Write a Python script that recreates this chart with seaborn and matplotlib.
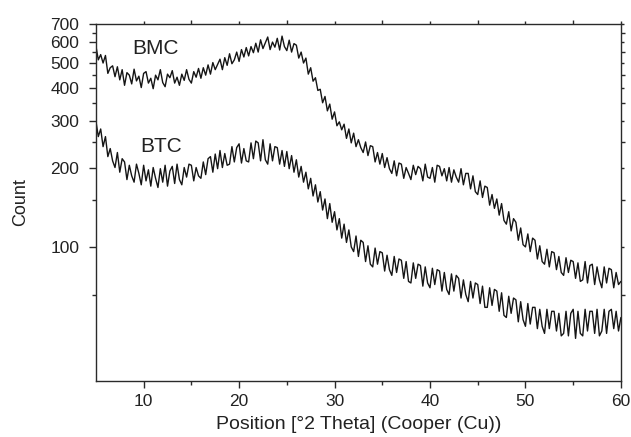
import numpy as np
import pandas as pd
import matplotlib
matplotlib.use('Agg')
import matplotlib.pyplot as plt
import seaborn as sns

# Scan grid: 5 to 60 deg 2theta, step 0.25
scan_start = 5.0
scan_step = 0.25

# BMC counts (4 values per degree)
bmc_counts = [
    578, 512, 536, 498,   # 5
    532, 455, 478, 486,   # 6
    442, 482, 430, 470,   # 7
    410, 458, 448, 415,   # 8
    472, 426, 444, 402,   # 9
    455, 462, 418, 436,   # 10
    398, 448, 430, 470,   # 11
    420, 405, 452, 438,   # 12
    466, 418, 440, 410,   # 13
    452, 428, 470, 432,   # 14
    418, 462, 440, 475,   # 15
    436, 478, 448, 490,   # 16
    452, 500, 470, 492,   # 17
    515, 470, 522, 488,   # 18
    540, 495, 512, 548,   # 19
    505, 560, 525, 570,   # 20
    530, 575, 545, 592,   # 21
    548, 610, 565, 595,   # 22
    625, 560, 598, 572,   # 23
    618, 558, 630, 575,   # 24
    555, 608, 548, 590,   # 25
    582, 520, 548, 498,   # 26
    520, 452, 478, 425,   # 27
    438, 392, 396, 352,   # 28
    372, 328, 348, 305,   # 29
    325, 288, 298, 278,   # 30
    292, 258, 280, 248,   # 31
    270, 240, 255, 238,   # 32
    228, 250, 222, 242,   # 33
    240, 210, 228, 206,   # 34
    226, 200, 218, 198,   # 35
    190, 212, 186, 208,   # 36
    206, 182, 200, 190,   # 37
    180, 204, 188, 202,   # 38
    198, 178, 206, 184,   # 39
    182, 200, 176, 204,   # 40
    202, 186, 198, 178,   # 41
    200, 176, 196, 184,   # 42
    176, 198, 172, 190,   # 43
    190, 166, 186, 162,   # 44
    158, 178, 154, 170,   # 45
    168, 144, 158, 140,   # 46
    152, 132, 146, 126,   # 47
    122, 136, 115, 128,   # 48
    124, 106, 118, 102,   # 49
    100, 112, 96, 108,    # 50
    106, 90, 101, 88,     # 51
    86, 98, 84, 96,       # 52
    95, 82, 92, 80,       # 53
    78, 91, 80, 89,       # 54
    88, 76, 87, 74,       # 55
    75, 88, 73, 85,       # 56
    86, 72, 84, 75,       # 57
    70, 84, 73, 83,       # 58
    82, 70, 80, 72,       # 59
    74,                   # 60
]

# BTC counts
btc_counts = [
    300, 262, 280, 240,   # 5
    262, 220, 236, 212,   # 6
    200, 228, 192, 216,   # 7
    210, 180, 204, 186,   # 8
    176, 206, 190, 172,   # 9
    204, 178, 196, 170,   # 10
    200, 182, 168, 198,   # 11
    176, 204, 170, 194,   # 12
    202, 174, 206, 180,   # 13
    172, 200, 184, 206,   # 14
    204, 178, 200, 186,   # 15
    182, 210, 188, 216,   # 16
    220, 192, 225, 198,   # 17
    232, 200, 226, 204,   # 18
    206, 240, 210, 238,   # 19
    246, 208, 236, 212,   # 20
    210, 248, 216, 252,   # 21
    248, 212, 255, 214,   # 22
    206, 246, 212, 240,   # 23
    238, 206, 232, 202,   # 24
    230, 198, 222, 192,   # 25
    214, 184, 202, 176,   # 26
    192, 166, 182, 156,   # 27
    172, 148, 162, 138,   # 28
    152, 128, 146, 124,   # 29
    136, 116, 128, 108,   # 30
    122, 104, 116, 100,   # 31
    96, 110, 92, 106,     # 32
    104, 88, 101, 86,     # 33
    84, 99, 86, 96,       # 34
    95, 81, 93, 82,       # 35
    78, 92, 80, 90,       # 36
    89, 76, 88, 74,       # 37
    73, 87, 76, 86,       # 38
    85, 71, 84, 73,       # 39
    70, 83, 72, 82,       # 40
    81, 68, 80, 69,       # 41
    66, 79, 68, 78,       # 42
    76, 64, 75, 66,       # 43
    62, 74, 64, 73,       # 44
    72, 61, 71, 59,       # 45
    59, 70, 60, 69,       # 46
    68, 57, 67, 55,       # 47
    54, 65, 56, 64,       # 48
    63, 52, 62, 53,       # 49
    50, 61, 51, 59,       # 50
    59, 49, 58, 50,       # 51
    47, 58, 49, 57,       # 52
    57, 48, 56, 46,       # 53
    47, 57, 46, 56,       # 54
    58, 45, 57, 47,       # 55
    46, 58, 48, 57,       # 56
    57, 47, 58, 46,       # 57
    48, 58, 47, 57,       # 58
    58, 49, 57, 48,       # 59
    54,                   # 60
]

y_major = [100, 200, 300, 400, 500, 600, 700]
y_minor = [66, 150, 250, 350, 450, 550, 650]

two_theta = scan_start + scan_step * np.arange(len(bmc_counts))
df = pd.concat([
    pd.DataFrame({'2theta': two_theta, 'Count': bmc_counts, 'sample': 'BMC'}),
    pd.DataFrame({'2theta': two_theta, 'Count': btc_counts, 'sample': 'BTC'}),
])

sns.set_style('ticks')
plt.rcParams['font.family'] = ['Liberation Sans', 'DejaVu Sans']

fig = plt.figure(figsize=(6.31, 4.37), dpi=100)
ax = fig.add_axes([0.152, 0.128, 0.832, 0.817])

sns.lineplot(data=df, x='2theta', y='Count', hue='sample',
             palette=['#151515', '#151515'], estimator=None, sort=False,
             linewidth=1.0, legend=False, ax=ax)

ax.set_yscale('log')
ax.set_xlim(5, 60)
ax.set_ylim(31, 700)
ax.set_xticks([10, 20, 30, 40, 50, 60])
ax.set_xticks([15, 25, 35, 45, 55], minor=True)
ax.set_yticks(y_major)
ax.set_yticklabels([str(v) for v in y_major])
ax.set_yticks(y_minor, minor=True)
ax.yaxis.set_minor_formatter(matplotlib.ticker.NullFormatter())

for s in ax.spines.values():
    s.set_linewidth(1.0)
    s.set_color('#2a2a2a')

ax.tick_params(axis='both', which='major', direction='out', length=5, width=1.0,
               color='#2a2a2a', labelsize=12.5, labelcolor='#222222')
ax.tick_params(axis='both', which='minor', direction='out', length=3, width=1.0,
               color='#2a2a2a')
ax.tick_params(axis='y', which='major', pad=7)
ax.tick_params(axis='x', which='major', pad=4)
ax.tick_params(top=True, right=True, which='both')
for t in ax.xaxis.get_ticklines()[1::2] + ax.yaxis.get_ticklines()[1::2]:
    t.set_markersize(2.5)

ax.set_xlabel('Position [°2 Theta] (Cooper (Cu))', fontsize=14, color='#222222', labelpad=5)
ax.set_ylabel('Count', fontsize=13, color='#222222', labelpad=15)

ax.text(8.85, 538, 'BMC', fontsize=15, color='#222222', ha='left', va='baseline')
ax.text(9.6, 230, 'BTC', fontsize=15, color='#222222', ha='left', va='baseline')

fig.savefig('out.png', dpi=100)
